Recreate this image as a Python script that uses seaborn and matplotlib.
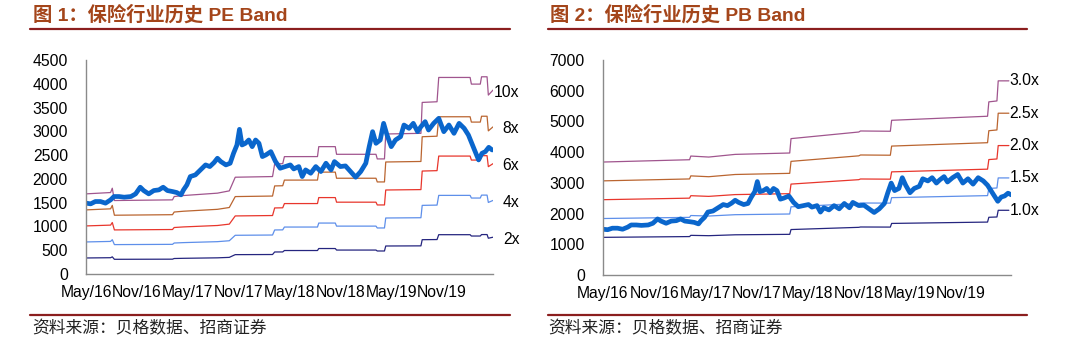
import numpy as np
import pandas as pd
import matplotlib
matplotlib.use("Agg")
import matplotlib.pyplot as plt
from matplotlib.lines import Line2D
import seaborn as sns

# ---- data (x = months since May 2016) ----
price_month = [0, 0.55, 1.1, 1.7, 2.3, 2.9, 3.3, 3.9, 4.5, 5.3, 5.85, 6.4, 6.8, 7.4, 8.0, 8.6,
               9.1, 9.6, 10.2, 10.7, 11.2, 11.5, 11.9, 12.3, 12.9, 13.5, 14.1, 14.6, 15.1, 15.5,
               15.9, 16.5, 17.0, 17.4, 17.8, 18.1, 18.4, 18.8, 19.2, 19.6, 20.0, 20.4, 20.8, 21.2,
               21.8, 22.35, 22.9, 23.5, 24.1, 24.5, 25.1, 25.5, 25.9, 26.5, 27.1, 27.7, 28.3, 28.9,
               29.3, 30.0, 30.6, 31.2, 31.8, 32.4, 33.0, 33.4, 33.8, 34.2, 34.7, 35.1, 35.5, 36.0,
               36.5, 37.1, 37.5, 38.1, 38.6, 39.1, 39.5, 40.0, 40.4, 41.0, 41.6, 42.2, 42.8, 43.4,
               44.0, 44.6, 45.1, 45.5, 45.9, 46.3, 46.7, 47.1, 47.5, 47.9]
price_value = [1490, 1475, 1524, 1524, 1490, 1559, 1629, 1629, 1615, 1629, 1685, 1825, 1755, 1685,
               1755, 1769, 1825, 1755, 1734, 1713, 1664, 1769, 1874, 2049, 2084, 2189, 2294, 2259,
               2343, 2434, 2364, 2294, 2329, 2538, 2713, 3042, 2713, 2748, 2818, 2678, 2818, 2748,
               2469, 2503, 2573, 2364, 2224, 2259, 2294, 2210, 2259, 2049, 2189, 2119, 2259, 2154,
               2329, 2189, 2364, 2259, 2273, 2154, 2035, 2154, 2329, 2678, 2993, 2748, 2818, 3168,
               2923, 2678, 2818, 2888, 3133, 3063, 3168, 2993, 3098, 3203, 3028, 3168, 3273, 2993,
               3133, 2958, 3168, 3063, 2923, 2748, 2573, 2399, 2538, 2573, 2664, 2608]

eps_month = [0, 2.9, 3.1, 3.35, 10.2, 10.4, 11.5, 15.5, 16.9, 17.6, 22.0, 22.25, 23.2, 23.4,
             27.3, 27.45, 29.4, 29.55, 34.2, 34.35, 35.2, 35.35, 39.5, 39.65, 41.4, 41.6,
             45.3, 45.45, 46.5, 46.65, 47.3, 47.45, 48.0]
eps_value = [168.5, 171.3, 180.4, 154.5, 155.9, 162.9, 165.0, 170.0, 174.8, 203.5, 204.9, 231.5,
             232.0, 246.8, 246.9, 267.8, 267.8, 251.7, 251.7, 242.0, 242.0, 294.4, 295.8, 360.8,
             362.2, 413.3, 413.3, 399.3, 399.3, 414.7, 414.7, 376.2, 386.7]

bvps_month = [0, 10.15, 10.3, 12.4, 15.5, 21.9, 22.05, 30.0, 30.2, 33.7, 33.85, 45.1, 45.25,
              46.2, 46.35, 47.6]
bvps_value = [1226, 1251, 1291, 1280, 1309, 1324, 1480, 1552, 1563, 1560, 1679, 1723, 1879,
              1889, 2107, 2107]

pe_multiples = [2, 4, 6, 8, 10]
pe_labels = ["2x", "4x", "6x", "8x", "10x"]
pb_multiples = [1.0, 1.5, 2.0, 2.5, 3.0]
pb_labels = ["1.0x", "1.5x", "2.0x", "2.5x", "3.0x"]

tick_months = [0, 6, 12, 18, 24, 30, 36, 42]
tick_labels = ["May/16", "Nov/16", "May/17", "Nov/17", "May/18", "Nov/18", "May/19", "Nov/19"]

band_colors = ["#25257F", "#5E8FEA", "#E8362C", "#BA6530", "#A0558E"]
price_color = "#0A66CC"
title_color = "#A4451A"
rule_color = "#8B1E1E"

sns.set_theme(style="white")
plt.rcParams["font.family"] = ["Liberation Sans", "Noto Sans CJK SC", "DejaVu Sans"]

W, H = 1080, 344
fig = plt.figure(figsize=(W / 100, H / 100), dpi=100)


def fx(px):
    return px / W


def fy(py):
    return 1 - py / H


def band_frame(month, base, multiples, labels):
    rows = []
    for k, lab in zip(multiples, labels):
        for m, b in zip(month, base):
            rows.append({"month": m, "value": b * k, "band": lab})
    return pd.DataFrame(rows)


price_df = pd.DataFrame({"month": price_month, "value": price_value})


def draw_panel(ax, bands, labels, ymax, ystep, xmax):
    sns.lineplot(data=bands, x="month", y="value", hue="band", hue_order=labels,
                 palette=band_colors, estimator=None, linewidth=0.9, legend=False, ax=ax)
    sns.lineplot(data=price_df, x="month", y="value", color=price_color,
                 estimator=None, linewidth=3.4, ax=ax)
    ax.set_xlim(0, xmax)
    ax.set_ylim(0, ymax)
    ax.set_yticks(np.arange(0, ymax + 1, ystep))
    ax.set_xticks(tick_months)
    ax.set_xticklabels(tick_labels)
    ax.set_xlabel("")
    ax.set_ylabel("")
    for s in ("top", "right"):
        ax.spines[s].set_visible(False)
    for s in ("left", "bottom"):
        ax.spines[s].set_color("#8a8a8a")
        ax.spines[s].set_linewidth(1.0)
    ax.tick_params(axis="both", direction="in", length=4, width=0.8, color="#8a8a8a",
                   labelsize=11.3, labelcolor="black")
    ax.tick_params(axis="x", pad=8)
    ax.tick_params(axis="y", pad=13)
    ax.patch.set_alpha(0)


# ---- PE band panel ----
ax1 = fig.add_axes([fx(86), fy(274), fx(493 - 86), (274 - 60) / H])
pe_df = band_frame(eps_month, eps_value, pe_multiples, pe_labels)
draw_panel(ax1, pe_df, pe_labels, 4500, 500, 48.0)
for k, lab in zip(pe_multiples, pe_labels):
    ax1.text(51.1, eps_value[-1] * k - 40, lab, ha="right", va="center", fontsize=11.3,
             color="black", clip_on=False)

# ---- PB band panel ----
ax2 = fig.add_axes([fx(603), fy(275), fx(1011 - 603), (275 - 60) / H])
pb_df = band_frame(bvps_month, bvps_value, pb_multiples, pb_labels)
draw_panel(ax2, pb_df, pb_labels, 7000, 1000, 47.85)
for k, lab in zip(pb_multiples, pb_labels):
    ax2.text(bvps_month[-1] + 0.05, bvps_value[-1] * k, lab, ha="left", va="center",
             fontsize=11.3, color="black", clip_on=False)

# ---- headings, rules and source notes ----
title_font = ["Liberation Sans", "Noto Sans CJK SC"]
fig.text(fx(33), fy(15), "图 1：保险行业历史 PE Band", ha="left", va="center",
         fontsize=13.9, fontweight="bold", color=title_color, family=title_font)
fig.text(fx(550), fy(15), "图 2：保险行业历史 PB Band", ha="left", va="center",
         fontsize=13.9, fontweight="bold", color=title_color, family=title_font)

for x0, x1 in ((30, 510), (548, 1027)):
    fig.add_artist(Line2D([fx(x0), fx(x1)], [fy(29), fy(29)], color=rule_color, lw=1.6))
    fig.add_artist(Line2D([fx(x0), fx(x1)], [fy(315), fy(315)], color=rule_color, lw=1.6))

note_font = ["Noto Sans CJK SC", "DejaVu Sans"]
fig.text(fx(32), fy(329), "资料来源：贝格数据、招商证券", ha="left", va="center",
         fontsize=12.1, color="#222222", family=note_font)
fig.text(fx(548), fy(329), "资料来源：贝格数据、招商证券", ha="left", va="center",
         fontsize=12.1, color="#222222", family=note_font)

fig.savefig("out.png", dpi=100)
